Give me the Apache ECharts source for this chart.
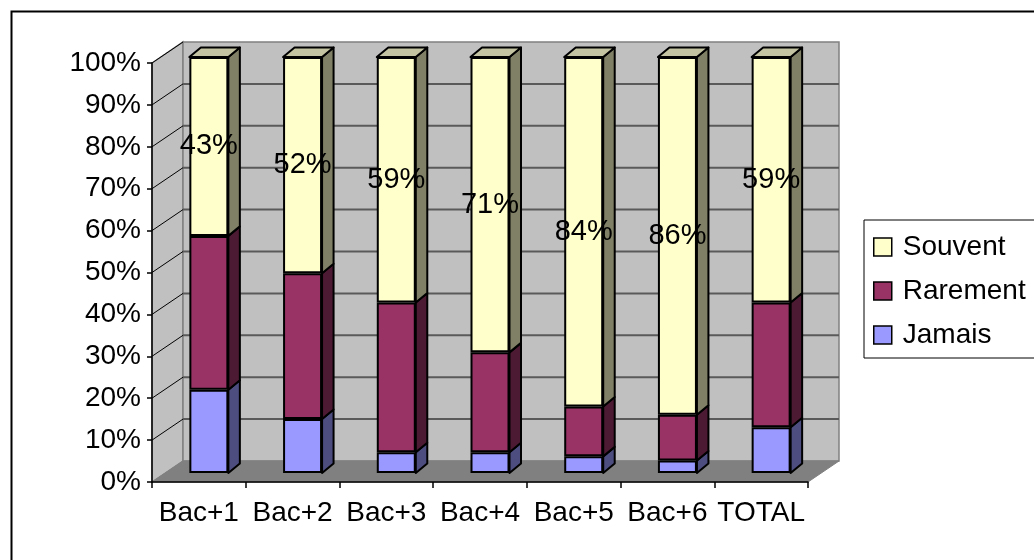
<!DOCTYPE html>
<html>
<head>
<meta charset="utf-8">
<script src="https://cdn.jsdelivr.net/npm/echarts@6/dist/echarts.min.js"></script>
<style>
  html, body { margin: 0; padding: 0; background: #fff; }
  #chart { width: 1034px; height: 560px; }
</style>
</head>
<body>
<div id="chart"></div>
<script>
// Survey answers per level (percent of respondents)
const categories = ['Bac+1', 'Bac+2', 'Bac+3', 'Bac+4', 'Bac+5', 'Bac+6', 'TOTAL'];
const jamais   = [20, 13, 5, 5, 4, 3, 11];
const rarement = [37, 35, 36, 24, 12, 11, 30];
const souvent  = [43, 52, 59, 71, 84, 86, 59];
const yTicks   = [0, 10, 20, 30, 40, 50, 60, 70, 80, 90, 100];

const FONT = 'Liberation Sans, Arial, sans-serif';
const FS_AXIS = 28;
const FS_LABEL = 29;
const FS_LEGEND = 28;
const BAR_W = 39;
// oblique depth of the chart box and of the bars
const WALL_DX = 31, WALL_DY = -21;
const BAR_DX = 11.5, BAR_DY = -9.5;

const colors = {
  souvent:  { front: '#FFFFCC', side: '#808066', top: '#C4C4A2' },
  rarement: { front: '#993366', side: '#4D1A33', top: '#CC6699' },
  jamais:   { front: '#9999FF', side: '#4D4D80', top: '#CCCCFF' }
};

const chart = echarts.init(document.getElementById('chart'), null, { renderer: 'canvas' });

// walls, floor and gridlines of the 3D box, drawn from the front value axis
function renderWalls(params, api) {
  const cs = params.coordSys;
  const x0 = cs.x, x1 = cs.x + cs.width;
  const yBot = api.coord([0, 0])[1];
  const yTop = api.coord([0, 100])[1];
  const children = [];
  // left side wall
  children.push({ type: 'polygon', shape: { points: [[x0, yTop], [x0 + WALL_DX, yTop + WALL_DY], [x0 + WALL_DX, yBot + WALL_DY], [x0, yBot]] },
    style: { fill: '#C0C0C0', stroke: '#808080', lineWidth: 1.5 } });
  // back wall
  children.push({ type: 'polygon', shape: { points: [[x0 + WALL_DX, yTop + WALL_DY], [x1 + WALL_DX, yTop + WALL_DY], [x1 + WALL_DX, yBot + WALL_DY], [x0 + WALL_DX, yBot + WALL_DY]] },
    style: { fill: '#C0C0C0', stroke: '#808080', lineWidth: 1.5 } });
  // floor
  children.push({ type: 'polygon', shape: { points: [[x0, yBot], [x0 + WALL_DX, yBot + WALL_DY], [x1 + WALL_DX, yBot + WALL_DY], [x1, yBot]] },
    style: { fill: '#808080', stroke: '#808080', lineWidth: 1 } });
  yTicks.forEach(function (v) {
    if (v === 0) return;
    const y = api.coord([0, v])[1];
    if (v < 100) {
      children.push({ type: 'line', shape: { x1: x0 + WALL_DX, y1: y + WALL_DY, x2: x1 + WALL_DX, y2: y + WALL_DY },
        style: { stroke: '#5A5A5A', lineWidth: 2 } });
    }
    children.push({ type: 'line', shape: { x1: x0, y1: y, x2: x0 + WALL_DX, y2: y + WALL_DY },
      style: { stroke: '#000', lineWidth: 1 } });
  });
  return { type: 'group', children: children };
}

// side and top faces of each stacked column
function renderDepth(params, api) {
  const i = api.value(0);
  const vals = [api.value(1), api.value(2), api.value(3)];
  const keys = ['jamais', 'rarement', 'souvent'];
  const cx = api.coord([i, 0])[0];
  const xl = cx - BAR_W / 2, xr = cx + BAR_W / 2;
  const children = [];
  let base = 0;
  for (let k = 0; k < 3; k++) {
    const top = base + vals[k];
    const yb = api.coord([i, base])[1];
    const yt = api.coord([i, top])[1];
    children.push({ type: 'polygon',
      shape: { points: [[xr, yb], [xr + BAR_DX, yb + BAR_DY], [xr + BAR_DX, yt + BAR_DY], [xr, yt]] },
      style: { fill: colors[keys[k]].side, stroke: '#000', lineWidth: 2, lineJoin: 'round' } });
    if (k === 2) {
      children.push({ type: 'polygon',
        shape: { points: [[xl, yt], [xr, yt], [xr + BAR_DX, yt + BAR_DY], [xl + BAR_DX, yt + BAR_DY]] },
        style: { fill: colors[keys[k]].top, stroke: '#000', lineWidth: 2, lineJoin: 'round' } });
    }
    base = top;
  }
  return { type: 'group', children: children };
}

const depthData = categories.map(function (c, i) { return [i, jamais[i], rarement[i], souvent[i]]; });

const option = {
  backgroundColor: '#fff',
  animation: false,
  textStyle: { fontFamily: FONT },
  graphic: [{
    type: 'rect', left: 9, top: 9, silent: true,
    shape: { width: 1100, height: 600 },
    style: { fill: 'none', stroke: '#000', lineWidth: 2 }
  }],
  legend: {
    orient: 'vertical',
    left: 864, top: 220,
    data: ['Souvent', 'Rarement', 'Jamais'],
    itemWidth: 18, itemHeight: 18,
    itemGap: 16,
    icon: 'rect',
    padding: [13, 30, 9, 9],
    borderColor: '#000', borderWidth: 1,
    backgroundColor: '#fff',
    textStyle: { fontSize: FS_LEGEND, color: '#000', fontFamily: FONT, padding: [0, 0, 0, 6] },
    itemStyle: { borderColor: '#000', borderWidth: 1.5 }
  },
  grid: [
    { left: 152, right: 226, top: 63, bottom: 78 },   // front plane (axes)
    { left: 162, right: 216, top: 57, bottom: 87 }    // column front faces
  ],
  xAxis: [{
    gridIndex: 0, type: 'category', data: categories,
    axisLine: { show: true, lineStyle: { color: '#000', width: 1.5 } },
    axisTick: { show: true, length: 6, lineStyle: { color: '#000', width: 1.5 } },
    axisLabel: { fontSize: FS_AXIS, color: '#000', fontFamily: FONT, margin: 17, interval: 0 },
    z: 5
  }, {
    gridIndex: 1, type: 'category', data: categories, show: false
  }],
  yAxis: [{
    gridIndex: 0, type: 'value', min: 0, max: 100, interval: 10,
    axisLine: { show: true, lineStyle: { color: '#000', width: 1.5 } },
    axisTick: { show: true, length: 5, lineStyle: { color: '#000', width: 1.5 } },
    axisLabel: { fontSize: FS_AXIS, color: '#000', fontFamily: FONT, margin: 11, formatter: '{value}%' },
    splitLine: { show: false },
    z: 5
  }, {
    gridIndex: 1, type: 'value', min: 0, max: 100, show: false
  }],
  series: [
    {
      type: 'custom', name: 'walls', xAxisIndex: 0, yAxisIndex: 0,
      renderItem: renderWalls, data: [[0, 0]], z: 0, silent: true, clip: false
    },
    {
      type: 'custom', name: 'depth', xAxisIndex: 1, yAxisIndex: 1,
      renderItem: renderDepth, data: depthData, z: 2, silent: true, clip: false
    },
    {
      type: 'bar', name: 'Jamais', stack: 'total', xAxisIndex: 1, yAxisIndex: 1,
      data: jamais, barWidth: BAR_W, z: 3,
      itemStyle: { color: colors.jamais.front, borderColor: '#000', borderWidth: 2 }
    },
    {
      type: 'bar', name: 'Rarement', stack: 'total', xAxisIndex: 1, yAxisIndex: 1,
      data: rarement, barWidth: BAR_W, z: 3,
      itemStyle: { color: colors.rarement.front, borderColor: '#000', borderWidth: 2 }
    },
    {
      type: 'bar', name: 'Souvent', stack: 'total', xAxisIndex: 1, yAxisIndex: 1,
      data: souvent, barWidth: BAR_W, z: 3,
      itemStyle: { color: colors.souvent.front, borderColor: '#000', borderWidth: 2 },
      label: {
        show: true, position: 'inside', formatter: '{c}%',
        fontSize: FS_LABEL, color: '#000', fontFamily: FONT,
        textBorderWidth: 0
      }
    }
  ]
};

chart.setOption(option);
</script>
</body>
</html>
